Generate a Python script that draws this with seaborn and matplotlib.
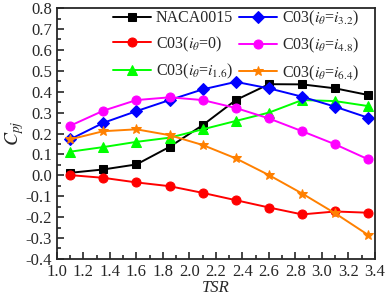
import numpy as np
import pandas as pd
import matplotlib
matplotlib.use('Agg')
import matplotlib.pyplot as plt
import seaborn as sns
from matplotlib.ticker import MultipleLocator

# data
tsr = [1.1, 1.35, 1.6, 1.85, 2.1, 2.35, 2.6, 2.85, 3.1, 3.35]
naca0015 = [0.012, 0.028, 0.052, 0.136, 0.240, 0.360, 0.436, 0.435, 0.416, 0.384]
c03_0 = [0.001, -0.012, -0.034, -0.052, -0.084, -0.119, -0.154, -0.187, -0.173, -0.179]
c03_16 = [0.113, 0.135, 0.160, 0.180, 0.220, 0.260, 0.300, 0.360, 0.355, 0.331]
c03_32 = [0.172, 0.251, 0.307, 0.360, 0.411, 0.447, 0.416, 0.376, 0.328, 0.275]
c03_48 = [0.237, 0.309, 0.360, 0.373, 0.360, 0.322, 0.272, 0.211, 0.148, 0.076]
c03_64 = [0.172, 0.211, 0.220, 0.192, 0.145, 0.081, 0.001, -0.087, -0.182, -0.286]

labels = ['NACA0015',
          r'C03($i_{\theta}$=0)',
          r'C03($i_{\theta}$=$i_{1.6}$)',
          r'C03($i_{\theta}$=$i_{3.2}$)',
          r'C03($i_{\theta}$=$i_{4.8}$)',
          r'C03($i_{\theta}$=$i_{6.4}$)']
series = [naca0015, c03_0, c03_16, c03_32, c03_48, c03_64]
colors = ['black', '#FF0000', '#00FF00', '#0000FF', '#FF00FF', '#FF8000']
markers = ['s', 'o', '^', 'D', 'o', '*']
sizes = [5.5, 6.5, 6.5, 6, 6.5, 7.5]

sns.set_style('ticks')
plt.rcParams['font.family'] = ['Liberation Serif', 'DejaVu Serif']
plt.rcParams['mathtext.fontset'] = 'stix'

fig = plt.figure(figsize=(3.87, 2.99), dpi=100)
ax = fig.add_axes([0.147, 0.134, 0.822, 0.839])

for y, lab, c, m, s in zip(series, labels, colors, markers, sizes):
    sns.lineplot(x=tsr, y=y, ax=ax, color=c, marker=m, markersize=s,
                 markeredgecolor=c, linewidth=1.4, label=lab)

ax.set_xlim(1.0, 3.4)
ax.set_ylim(-0.4, 0.8)
ax.xaxis.set_major_locator(MultipleLocator(0.2))
ax.xaxis.set_minor_locator(MultipleLocator(0.1))
ax.yaxis.set_major_locator(MultipleLocator(0.1))
ax.yaxis.set_minor_locator(MultipleLocator(0.05))
ax.xaxis.set_major_formatter(matplotlib.ticker.FormatStrFormatter('%.1f'))
ax.yaxis.set_major_formatter(matplotlib.ticker.FormatStrFormatter('%.1f'))
ax.tick_params(which='both', direction='in', labelsize=12, width=1.2)
ax.tick_params(which='major', length=5)
ax.tick_params(which='minor', length=3)
for sp in ax.spines.values():
    sp.set_linewidth(1.3)
    sp.set_visible(True)

ax.set_xlabel('TSR', fontsize=12, style='italic', labelpad=0)
ax.set_ylabel(r'$C_{pj}$', fontsize=14, labelpad=0)

ax.legend(loc='upper left', bbox_to_anchor=(0.145, 1.035), ncol=2, frameon=False,
          fontsize=11.5, handlelength=2.4, handletextpad=0.3, columnspacing=0.35,
          labelspacing=0.5, borderaxespad=0.2)

fig.savefig('out.png', dpi=100)
